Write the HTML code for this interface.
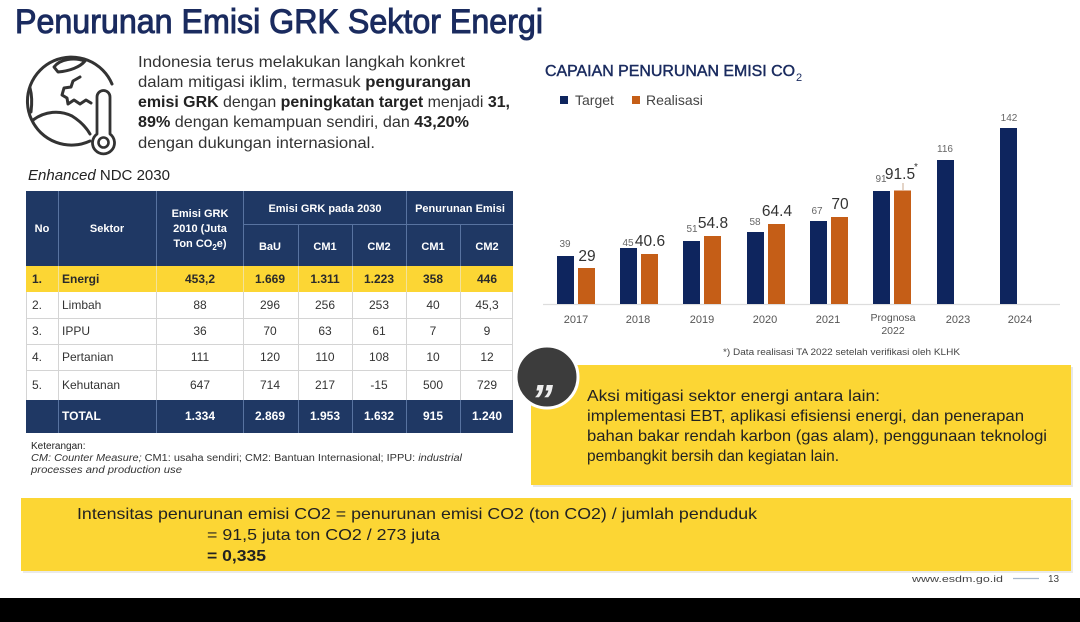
<!DOCTYPE html>
<html>
<head>
<meta charset="utf-8">
<style>
  html,body{margin:0;padding:0;background:#fff;}
  svg{display:block;}
  text{font-family:"Liberation Sans", Arial, sans-serif;}
</style>
</head>
<body>
<svg width="1080" height="622" viewBox="0 0 1080 622" xmlns="http://www.w3.org/2000/svg">
  <rect x="0" y="0" width="1080" height="622" fill="#ffffff"/>

  <!-- Title -->
  <text x="15" y="33" font-size="34" fill="#1a2b5f" stroke="#1a2b5f" stroke-width="1" textLength="528" lengthAdjust="spacingAndGlyphs">Penurunan Emisi GRK Sektor Energi</text>

  <!-- Globe icon -->
  <g fill="none" stroke="#333" stroke-width="3" stroke-linecap="round" stroke-linejoin="round">
    <path d="M112 84 A44 44 0 1 0 90 141"/>
    <path d="M54 67 C60 59 74 57 85 61 C80 67 70 71 58 72 Z"/>
    <path d="M80 77 L73 81 L71 87 L64 88 L62 95 L67 98 L68 104 L74 100 L80 104 L86 100 L91 103"/>
    <path d="M30 88 C32 95 32 104 31 112"/>
    <path d="M33 120 C45 111 60 110 72 116 C80 121 86 127 90 134"/>
    <path d="M97 134 V97 a6.5 6.5 0 0 1 13 0 V134 a11 11 0 1 1 -13 0 Z" stroke-width="2.8"/>
    <circle cx="103.5" cy="142.5" r="5" stroke-width="2.6"/>
  </g>

  <!-- Paragraph -->
  <g font-size="16" fill="#333">
    <text x="138" y="67" textLength="327" lengthAdjust="spacingAndGlyphs">Indonesia terus melakukan langkah konkret</text>
    <text x="138" y="87" textLength="333" lengthAdjust="spacingAndGlyphs">dalam mitigasi iklim, termasuk <tspan font-weight="bold" fill="#222">pengurangan</tspan></text>
    <text x="138" y="107" textLength="372" lengthAdjust="spacingAndGlyphs"><tspan font-weight="bold" fill="#222">emisi GRK</tspan> dengan <tspan font-weight="bold" fill="#222">peningkatan target</tspan> menjadi <tspan font-weight="bold" fill="#222">31,</tspan></text>
    <text x="138" y="127" textLength="331" lengthAdjust="spacingAndGlyphs"><tspan font-weight="bold" fill="#222">89%</tspan> dengan kemampuan sendiri, dan <tspan font-weight="bold" fill="#222">43,20%</tspan></text>
    <text x="138" y="148" textLength="237" lengthAdjust="spacingAndGlyphs">dengan dukungan internasional.</text>
  </g>

  <text x="28" y="180" font-size="15" fill="#222" textLength="142" lengthAdjust="spacingAndGlyphs"><tspan font-style="italic">Enhanced</tspan> NDC 2030</text>

  <!-- Table header -->
  <rect x="26" y="191" width="487" height="75" fill="#1f3864"/>
  <g stroke="#5873a0" stroke-width="1">
    <line x1="58.5" y1="191" x2="58.5" y2="266"/>
    <line x1="156.5" y1="191" x2="156.5" y2="266"/>
    <line x1="243.5" y1="191" x2="243.5" y2="266"/>
    <line x1="406.5" y1="191" x2="406.5" y2="266"/>
    <line x1="298.5" y1="224" x2="298.5" y2="266"/>
    <line x1="352.5" y1="224" x2="352.5" y2="266"/>
    <line x1="460.5" y1="224" x2="460.5" y2="266"/>
    <line x1="243" y1="224.5" x2="513" y2="224.5"/>
  </g>
  <g font-size="11" font-weight="bold" fill="#ffffff" text-anchor="middle">
    <text x="42" y="232">No</text>
    <text x="107" y="232">Sektor</text>
    <text x="200" y="217">Emisi GRK</text>
    <text x="200" y="232">2010 (Juta</text>
    <text x="200" y="247">Ton CO<tspan font-size="8" dy="3">2</tspan><tspan dy="-3">e)</tspan></text>
    <text x="325" y="212">Emisi GRK pada 2030</text>
    <text x="460" y="212">Penurunan Emisi</text>
    <text x="270" y="250">BaU</text>
    <text x="325" y="250">CM1</text>
    <text x="379" y="250">CM2</text>
    <text x="433" y="250">CM1</text>
    <text x="487" y="250">CM2</text>
  </g>

  <!-- Energi row -->
  <rect x="26" y="266" width="487" height="26" fill="#fcd634"/>
  <g stroke="#f3e29a" stroke-width="1">
    <line x1="58.5" y1="266" x2="58.5" y2="292"/>
    <line x1="156.5" y1="266" x2="156.5" y2="292"/>
    <line x1="243.5" y1="266" x2="243.5" y2="292"/>
    <line x1="298.5" y1="266" x2="298.5" y2="292"/>
    <line x1="352.5" y1="266" x2="352.5" y2="292"/>
    <line x1="406.5" y1="266" x2="406.5" y2="292"/>
    <line x1="460.5" y1="266" x2="460.5" y2="292"/>
  </g>
  <g font-size="12" font-weight="bold" fill="#2a2a2a">
    <text x="32" y="283">1.</text>
    <text x="62" y="283">Energi</text>
    <g text-anchor="middle">
      <text x="200" y="283">453,2</text>
      <text x="270" y="283">1.669</text>
      <text x="325" y="283">1.311</text>
      <text x="379" y="283">1.223</text>
      <text x="433" y="283">358</text>
      <text x="487" y="283">446</text>
    </g>
  </g>

  <!-- Body rows grid -->
  <g stroke="#d4d4d4" stroke-width="1">
    <line x1="26.5" y1="292" x2="26.5" y2="400"/>
    <line x1="58.5" y1="292" x2="58.5" y2="400"/>
    <line x1="156.5" y1="292" x2="156.5" y2="400"/>
    <line x1="243.5" y1="292" x2="243.5" y2="400"/>
    <line x1="298.5" y1="292" x2="298.5" y2="400"/>
    <line x1="352.5" y1="292" x2="352.5" y2="400"/>
    <line x1="406.5" y1="292" x2="406.5" y2="400"/>
    <line x1="460.5" y1="292" x2="460.5" y2="400"/>
    <line x1="512.5" y1="292" x2="512.5" y2="400"/>
    <line x1="26" y1="318.5" x2="513" y2="318.5"/>
    <line x1="26" y1="344.5" x2="513" y2="344.5"/>
    <line x1="26" y1="370.5" x2="513" y2="370.5"/>
  </g>
  <g font-size="12" fill="#333">
    <text x="32" y="309">2.</text><text x="62" y="309">Limbah</text>
    <text x="32" y="335">3.</text><text x="62" y="335">IPPU</text>
    <text x="32" y="361">4.</text><text x="62" y="361">Pertanian</text>
    <text x="32" y="389">5.</text><text x="62" y="389">Kehutanan</text>
    <g text-anchor="middle">
      <text x="200" y="309">88</text><text x="270" y="309">296</text><text x="325" y="309">256</text><text x="379" y="309">253</text><text x="433" y="309">40</text><text x="487" y="309">45,3</text>
      <text x="200" y="335">36</text><text x="270" y="335">70</text><text x="325" y="335">63</text><text x="379" y="335">61</text><text x="433" y="335">7</text><text x="487" y="335">9</text>
      <text x="200" y="361">111</text><text x="270" y="361">120</text><text x="325" y="361">110</text><text x="379" y="361">108</text><text x="433" y="361">10</text><text x="487" y="361">12</text>
      <text x="200" y="389">647</text><text x="270" y="389">714</text><text x="325" y="389">217</text><text x="379" y="389">-15</text><text x="433" y="389">500</text><text x="487" y="389">729</text>
    </g>
  </g>

  <!-- Total row -->
  <rect x="26" y="400" width="487" height="33" fill="#1f3864"/>
  <g stroke="#5873a0" stroke-width="1">
    <line x1="58.5" y1="400" x2="58.5" y2="433"/>
    <line x1="156.5" y1="400" x2="156.5" y2="433"/>
    <line x1="243.5" y1="400" x2="243.5" y2="433"/>
    <line x1="298.5" y1="400" x2="298.5" y2="433"/>
    <line x1="352.5" y1="400" x2="352.5" y2="433"/>
    <line x1="406.5" y1="400" x2="406.5" y2="433"/>
    <line x1="460.5" y1="400" x2="460.5" y2="433"/>
  </g>
  <g font-size="12" font-weight="bold" fill="#ffffff">
    <text x="62" y="420">TOTAL</text>
    <g text-anchor="middle">
      <text x="200" y="420">1.334</text>
      <text x="270" y="420">2.869</text>
      <text x="325" y="420">1.953</text>
      <text x="379" y="420">1.632</text>
      <text x="433" y="420">915</text>
      <text x="487" y="420">1.240</text>
    </g>
  </g>

  <!-- Keterangan -->
  <text x="31" y="449" font-size="10" fill="#222">Keterangan:</text>
  <text x="31" y="461" font-size="10" fill="#333" textLength="431" lengthAdjust="spacingAndGlyphs"><tspan font-style="italic">CM: Counter Measure;</tspan> CM1: usaha sendiri; CM2: Bantuan Internasional; IPPU: <tspan font-style="italic">industrial</tspan></text>
  <text x="31" y="473" font-size="10" fill="#333" font-style="italic" textLength="151" lengthAdjust="spacingAndGlyphs">processes and production use</text>

  <!-- Chart title -->
  <text x="545" y="76" font-size="15.5" fill="#1a2b5f" stroke="#1a2b5f" stroke-width="0.45" textLength="250" lengthAdjust="spacingAndGlyphs">CAPAIAN PENURUNAN EMISI CO</text>
  <text x="796" y="81" font-size="11" fill="#1a2b5f">2</text>

  <!-- Legend -->
  <rect x="560" y="96" width="8" height="8" fill="#0e255e"/>
  <text x="575" y="105" font-size="14" fill="#444">Target</text>
  <rect x="632" y="96" width="8" height="8" fill="#c55e17"/>
  <text x="646" y="105" font-size="14" fill="#444">Realisasi</text>

  <!-- Baseline -->
  <line x1="543" y1="304.5" x2="1060" y2="304.5" stroke="#dddddd" stroke-width="1.2"/>

  <!-- Bars -->
  <g fill="#0e255e">
    <rect x="557" y="256" width="17" height="48"/>
    <rect x="620" y="248" width="17" height="56"/>
    <rect x="683" y="241" width="17" height="63"/>
    <rect x="747" y="232" width="17" height="72"/>
    <rect x="810" y="221" width="17" height="83"/>
    <rect x="873" y="191" width="17" height="113"/>
    <rect x="937" y="160" width="17" height="144"/>
    <rect x="1000" y="128" width="17" height="176"/>
  </g>
  <g fill="#c55e17">
    <rect x="578" y="268" width="17" height="36"/>
    <rect x="641" y="254" width="17" height="50"/>
    <rect x="704" y="236" width="17" height="68"/>
    <rect x="768" y="224" width="17" height="80"/>
    <rect x="831" y="217" width="17" height="87"/>
    <rect x="894" y="190.5" width="17" height="113.5"/>
  </g>
  <line x1="903" y1="183" x2="903" y2="190" stroke="#c9a88f" stroke-width="1"/>

  <!-- Target labels -->
  <g font-size="10" fill="#666" text-anchor="middle">
    <text x="565" y="247">39</text>
    <text x="628" y="246">45</text>
    <text x="692" y="232">51</text>
    <text x="755" y="225">58</text>
    <text x="817" y="214">67</text>
    <text x="881" y="182">91</text>
    <text x="945" y="152">116</text>
    <text x="1009" y="121">142</text>
  </g>
  <!-- Realisasi labels -->
  <g font-size="15.5" fill="#333" text-anchor="middle">
    <text x="587" y="261">29</text>
    <text x="650" y="246">40.6</text>
    <text x="713" y="228">54.8</text>
    <text x="777" y="216">64.4</text>
    <text x="840" y="209">70</text>
    <text x="900" y="179">91.5</text>
  </g>
  <text x="914" y="170" font-size="10" fill="#333">*</text>

  <!-- X labels -->
  <g font-size="11" fill="#555" text-anchor="middle">
    <text x="576" y="323">2017</text>
    <text x="638" y="323">2018</text>
    <text x="702" y="323">2019</text>
    <text x="765" y="323">2020</text>
    <text x="828" y="323">2021</text>
    <text x="893" y="321" font-size="10.5">Prognosa</text>
    <text x="893" y="334" font-size="10.5">2022</text>
    <text x="958" y="323">2023</text>
    <text x="1020" y="323">2024</text>
  </g>

  <text x="723" y="355" font-size="9.5" fill="#444" textLength="237" lengthAdjust="spacingAndGlyphs">*) Data realisasi TA 2022 setelah verifikasi oleh KLHK</text>

  <!-- Quote box -->
  <rect x="533" y="367" width="540" height="120" fill="#e8e8e8"/>
  <rect x="531" y="365" width="540" height="120" fill="#fcd634"/>
  <circle cx="547" cy="377" r="31" fill="#3c3c3c" stroke="#ffffff" stroke-width="3"/>
  <text x="531" y="415" font-size="44" font-weight="bold" font-style="italic" fill="#eeeeee">”</text>
  <g font-size="16" fill="#222">
    <text x="587" y="401" textLength="293" lengthAdjust="spacingAndGlyphs">Aksi mitigasi sektor energi antara lain:</text>
    <text x="587" y="421" textLength="437" lengthAdjust="spacingAndGlyphs">implementasi EBT, aplikasi efisiensi energi, dan penerapan</text>
    <text x="587" y="441" textLength="460" lengthAdjust="spacingAndGlyphs">bahan bakar rendah karbon (gas alam), penggunaan teknologi</text>
    <text x="587" y="461" textLength="252" lengthAdjust="spacingAndGlyphs">pembangkit bersih dan kegiatan lain.</text>
  </g>

  <!-- Bottom box -->
  <rect x="23" y="500" width="1050" height="73" fill="#eaeaea"/>
  <rect x="21" y="498" width="1050" height="73" fill="#fcd634"/>
  <g font-size="16" fill="#222">
    <text x="77" y="519" textLength="680" lengthAdjust="spacingAndGlyphs">Intensitas penurunan emisi CO2 = penurunan emisi CO2 (ton CO2) / jumlah penduduk</text>
    <text x="207" y="540" textLength="233" lengthAdjust="spacingAndGlyphs">= 91,5 juta ton CO2 / 273 juta</text>
    <text x="207" y="561" font-weight="bold" textLength="59" lengthAdjust="spacingAndGlyphs">= 0,335</text>
  </g>

  <!-- Footer -->
  <text x="912" y="582" font-size="9.5" fill="#444" textLength="91" lengthAdjust="spacingAndGlyphs">www.esdm.go.id</text>
  <line x1="1013" y1="578.5" x2="1039" y2="578.5" stroke="#a7b7cc" stroke-width="1.2"/>
  <text x="1048" y="582" font-size="10" fill="#444">13</text>

  <!-- Bottom black band -->
  <rect x="0" y="598" width="1080" height="24" fill="#000000"/>
</svg>
</body>
</html>
